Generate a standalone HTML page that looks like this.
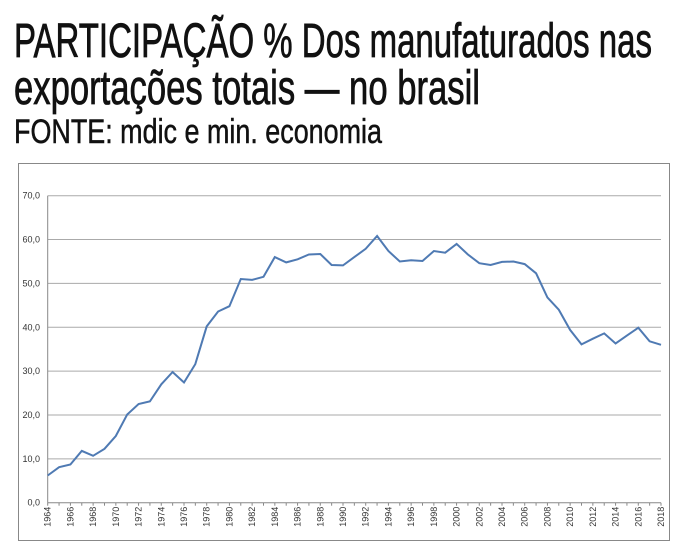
<!DOCTYPE html>
<html><head><meta charset="utf-8"><style>
html,body{margin:0;padding:0;background:#fff;width:683px;height:548px;overflow:hidden}
svg{display:block}
</style></head><body>
<svg id="s" width="683" height="548">
<g stroke="#111" stroke-width="0.8">
<text x="14" y="57" font-family="Liberation Sans Narrow, Liberation Sans, sans-serif" font-size="48" textLength="638" lengthAdjust="spacingAndGlyphs" fill="#111">PARTICIPAÇÃO % Dos manufaturados nas</text>
<text x="14" y="104" font-family="Liberation Sans Narrow, Liberation Sans, sans-serif" font-size="48" textLength="466" lengthAdjust="spacingAndGlyphs" fill="#111">exportações totais — no brasil</text>
<text x="14" y="143" font-family="Liberation Sans Narrow, Liberation Sans, sans-serif" font-size="34" textLength="368" lengthAdjust="spacingAndGlyphs" fill="#111" stroke-width="0.5">FONTE: mdic e min. economia</text>
</g>
<rect x="18.5" y="163.5" width="651" height="377" fill="#fff" stroke="#888"/>
<g id="grid"></g><g id="ylab"></g><g id="xlab"></g>
<path id="line" fill="none" stroke="#4f7ab3" stroke-width="2"/>
</svg>
<script>
const years=[];for(let y=1964;y<=2018;y++)years.push(y);
const values=[6.2,8.1,8.7,11.8,10.7,12.3,15.2,20.1,22.5,23.1,27.0,29.8,27.4,31.6,40.2,43.6,44.8,51.0,50.8,51.5,56.0,54.8,55.5,56.6,56.7,54.2,54.1,56.0,57.9,60.8,57.4,55.0,55.3,55.1,57.4,57.0,59.0,56.6,54.6,54.2,54.9,55.0,54.4,52.3,46.8,44.0,39.4,36.1,37.4,38.6,36.3,38.1,39.9,36.8,36.0];
const yTicks=[0,10,20,30,40,50,60,70];
const yTickLabels=["0,0","10,0","20,0","30,0","40,0","50,0","60,0","70,0"];
const NS="http://www.w3.org/2000/svg";
const x0=47.7,x1=661,yb=502.7,yt=195.7;
const xs=y=>x0+(y-years[0])/(years[years.length-1]-years[0])*(x1-x0);
const ys=v=>yb-v/70*(yb-yt);
function mk(t,a,p){const e=document.createElementNS(NS,t);for(const k in a)e.setAttribute(k,a[k]);p.appendChild(e);return e;}
const g=document.getElementById('grid'),yl=document.getElementById('ylab'),xl=document.getElementById('xlab');
yTicks.forEach((v,i)=>{
 if(v>0){const l=mk('line',{x1:x0,x2:x1,y1:ys(v),y2:ys(v),stroke:'#aaa','stroke-width':1},g);
 
 }
 const t=mk('text',{x:40,y:ys(v)+3,'text-anchor':'end','font-family':'Liberation Sans, sans-serif','font-size':9,fill:'#333'},yl);
 t.textContent=yTickLabels[i];
 
 
});
const ax=mk('line',{x1:x0,x2:x0,y1:yt,y2:yb,stroke:'#888'},g);


const bx=mk('line',{x1:x0,x2:x1,y1:yb,y2:yb,stroke:'#888'},g);


years.forEach((y,i)=>{
 mk('line',{x1:xs(y),x2:xs(y),y1:yb,y2:yb+3,stroke:'#888'},g);
 if(i%2===0){const px=xs(y)+3,py=yb+4;
 const t=mk('text',{x:px,y:py,'text-anchor':'end','font-family':'Liberation Sans, sans-serif','font-size':9,fill:'#333',transform:`rotate(-90 ${px} ${py})`},xl);
 t.textContent=y;
 
 }
});
document.getElementById('line').setAttribute('d',values.map((v,i)=>(i?'L':'M')+xs(years[i]).toFixed(1)+','+ys(v).toFixed(1)).join(''));
</script>
</body></html>
